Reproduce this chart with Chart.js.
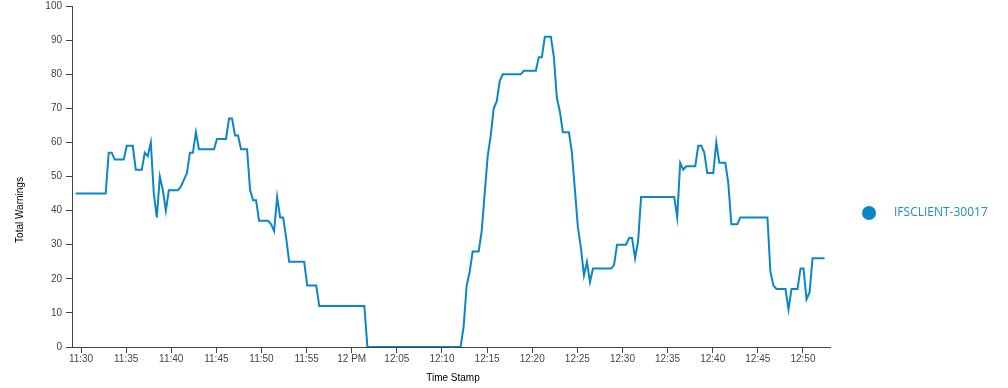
<!DOCTYPE html>
<html>
<head>
<meta charset="utf-8">
<script src="https://cdn.jsdelivr.net/npm/chart.js@4/dist/chart.umd.min.js"></script>
<style>
    html, body { margin: 0; padding: 0; background: #fff; }
    #wrap { position: relative; width: 1008px; height: 388px; }
</style>
</head>
<body>
<div id="wrap"><canvas id="chart" width="1008" height="388"></canvas></div>
<script>
const seriesName = 'IFSCLIENT-30017';

const times = [
    '11:29:24', '11:32:44', '11:33:04', '11:33:24', '11:33:44', '11:34:44', '11:35:04', '11:35:44',
    '11:36:04', '11:36:44', '11:37:04', '11:37:24', '11:37:44', '11:38:04', '11:38:24', '11:38:44',
    '11:39:04', '11:39:24', '11:39:44', '11:40:44', '11:41:04', '11:41:24', '11:41:44', '11:42:04',
    '11:42:24', '11:42:44', '11:43:04', '11:44:44', '11:45:04', '11:46:04', '11:46:24', '11:46:44',
    '11:47:04', '11:47:24', '11:47:44', '11:48:24', '11:48:44', '11:49:04', '11:49:24', '11:49:44',
    '11:50:44', '11:51:04', '11:51:24', '11:51:44', '11:52:04', '11:52:24', '11:52:44', '11:53:04',
    '11:54:44', '11:55:04', '11:56:04', '11:56:24', '12:01:24', '12:01:44', '12:12:04', '12:12:24',
    '12:12:44', '12:13:04', '12:13:24', '12:14:04', '12:14:24', '12:14:44', '12:15:04', '12:15:24',
    '12:15:44', '12:16:04', '12:16:24', '12:16:44', '12:18:44', '12:19:04', '12:20:24', '12:20:44',
    '12:21:04', '12:21:24', '12:22:04', '12:22:24', '12:22:44', '12:23:04', '12:23:24', '12:24:04',
    '12:24:24', '12:24:44', '12:25:04', '12:25:24', '12:25:44', '12:26:04', '12:26:24', '12:26:44',
    '12:28:44', '12:29:04', '12:29:24', '12:30:24', '12:30:44', '12:31:04', '12:31:24', '12:31:44',
    '12:32:04', '12:35:44', '12:36:04', '12:36:24', '12:36:44', '12:37:04', '12:38:04', '12:38:24',
    '12:38:44', '12:39:04', '12:39:24', '12:40:04', '12:40:24', '12:40:44', '12:41:24', '12:41:44',
    '12:42:04', '12:42:44', '12:43:04', '12:46:04', '12:46:24', '12:46:44', '12:47:04', '12:48:04',
    '12:48:24', '12:48:44', '12:49:24', '12:49:44', '12:50:04', '12:50:24', '12:50:44', '12:51:04',
    '12:52:24',
];

const warnings = [
    45, 45, 57, 57, 55, 55, 59, 59,
    52, 52, 57, 56, 60, 45, 38, 50,
    46, 40, 46, 46, 47, 49, 51, 57,
    57, 63, 58, 58, 61, 61, 67, 67,
    62, 62, 58, 58, 46, 43, 43, 37,
    37, 36, 34, 44, 38, 38, 32, 25,
    25, 18, 18, 12, 12, 0, 0, 6,
    18, 22, 28, 28, 34, 45, 56, 62,
    70, 72, 78, 80, 80, 81, 81, 85,
    85, 91, 91, 85, 73, 69, 63, 63,
    57, 46, 35, 29, 21, 25, 19, 23,
    23, 24, 30, 30, 32, 32, 26, 31,
    44, 44, 38, 54, 52, 53, 53, 59,
    59, 57, 51, 51, 60, 54, 54, 48,
    36, 36, 38, 38, 22, 18, 17, 17,
    11, 17, 17, 23, 23, 14, 16, 26,
    26,
];

// x axis runs 11:29 .. 12:53, ticks every 5 minutes from 11:30
const axisStart = '11:29:00';
const axisEnd = '12:53:00';
const tickTimes = [
    '11:30', '11:35', '11:40', '11:45', '11:50', '11:55', '12:00', '12:05', '12:10',
    '12:15', '12:20', '12:25', '12:30', '12:35', '12:40', '12:45', '12:50',
];

const lineColor = '#0a87c5';

function toMinutes(t) {
    const [h, m, s = 0] = t.split(':').map(Number);
    return h * 60 + m + s / 60;
}

function formatTick(value) {
    const total = Math.round(value);
    const h = Math.floor(total / 60);
    const m = total % 60;
    if (m === 0) {
        return h === 12 ? '12 PM' : `${h % 12 || 12} ${h < 12 ? 'AM' : 'PM'}`;
    }
    return `${h % 12 || 12}:${String(m).padStart(2, '0')}`;
}

const points = times.map((t, i) => ({ x: toMinutes(t), y: warnings[i] }));

const labelsPlugin = {
    id: 'labels',
    afterDraw(chart) {
        const ctx = chart.ctx;
        ctx.save();
        ctx.fillStyle = '#000';
        ctx.font = '10px "Liberation Sans", Arial, sans-serif';
        ctx.textAlign = 'center';
        ctx.textBaseline = 'middle';
        ctx.fillText('Time Stamp', (chart.chartArea.left + chart.chartArea.right) / 2 + 2, 378);

        ctx.translate(20, 210);
        ctx.rotate(-Math.PI / 2);
        ctx.fillText('Total Warnings', 0, 0);
        ctx.restore();

        // legend
        ctx.save();
        ctx.fillStyle = lineColor;
        ctx.beginPath();
        ctx.arc(869, 213, 7, 0, Math.PI * 2);
        ctx.fill();
        ctx.fillStyle = '#1f8cc6';
        ctx.font = '12px "Open Sans", "Noto Sans", sans-serif';
        ctx.textAlign = 'left';
        ctx.textBaseline = 'middle';
        ctx.fillText(seriesName, 894, 213);
        ctx.restore();
    },
};

new Chart(document.getElementById('chart'), {
    type: 'line',
    data: {
        datasets: [
            {
                label: seriesName,
                data: points,
                borderColor: lineColor,
                borderWidth: 2,
                pointRadius: 0,
                pointHoverRadius: 0,
                tension: 0,
                fill: false,
            },
        ],
    },
    options: {
        responsive: false,
        animation: false,
        events: [],
        layout: {
            padding: { top: 6, right: 178, left: 0, bottom: 0 },
        },
        plugins: {
            legend: { display: false },
            tooltip: { enabled: false },
        },
        scales: {
            x: {
                type: 'linear',
                min: toMinutes(axisStart),
                max: toMinutes(axisEnd),
                afterBuildTicks(scale) {
                    scale.ticks = tickTimes.map((t) => ({ value: toMinutes(t) }));
                },
                afterFit(scale) {
                    scale.height = 41;
                    scale.paddingLeft = 0;
                    scale.paddingRight = 0;
                },
                grid: {
                    drawOnChartArea: false,
                    drawTicks: true,
                    tickLength: 6,
                    color: '#444',
                },
                border: { display: true, color: '#444', width: 1 },
                ticks: {
                    color: '#444',
                    padding: 0,
                    maxRotation: 0,
                    autoSkip: false,
                    font: { family: '"Liberation Sans", Arial, sans-serif', size: 10 },
                    callback(value) {
                        return formatTick(value);
                    },
                },
            },
            y: {
                min: 0,
                max: 100,
                afterFit(scale) {
                    scale.width = 72;
                    scale.paddingTop = 0;
                    scale.paddingBottom = 0;
                },
                grid: {
                    drawOnChartArea: false,
                    drawTicks: true,
                    tickLength: 6,
                    color: '#444',
                },
                border: { display: true, color: '#444', width: 1 },
                ticks: {
                    stepSize: 10,
                    color: '#444',
                    padding: 4,
                    font: { family: '"Liberation Sans", Arial, sans-serif', size: 10 },
                },
            },
        },
    },
    plugins: [labelsPlugin],
});
</script>
</body>
</html>
